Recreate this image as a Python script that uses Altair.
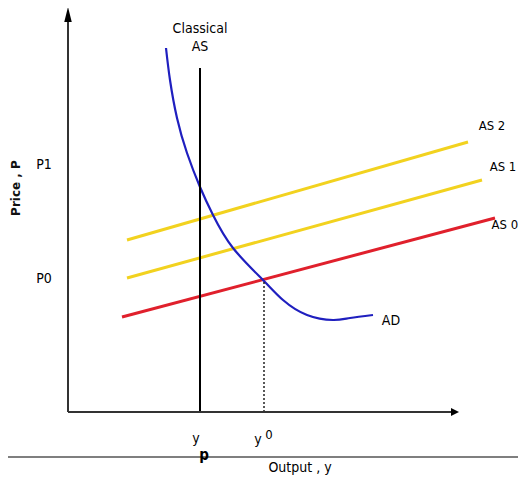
import altair as alt
import pandas as pd

# ---- data (diagram units: output on x, price on y) ----
ad_x = [24.5, 25.5, 27.25, 29.75, 33, 36.25, 41.25, 48.75, 53.75, 59.75, 66.25, 70.5, 76.25]
ad_y = [91, 83, 73.5, 64.75, 56.25, 49.25, 41, 33, 28, 24.25, 23, 23.5, 24.25]

as0_x = [13.5, 106.75]
as0_y = [23.75, 48.5]
as1_x = [14.75, 103.5]
as1_y = [33.5, 58]
as2_x = [14.75, 100]
as2_y = [43, 67.5]

classical_x = [33]
classical_y = [0, 86]
y0_line_x = [49]
y0_line_y = [0, 32.75]

axis_x_end = [96]
axis_y_end = [97.5]

label_text = ["Classical", "AS", "P1", "P0", "AD", "y", "y", "Output , y"]
label_x = [33, 33, -6, -6, 80.75, 32, 47.5, 58]
label_y = [95.75, 91.25, 61.75, 33.25, 22.75, -6.75, -7, -13.9]

as_text = ["AS 2", "AS 1", "AS 0"]
as_lx = [106, 108.75, 109.2]
as_ly = [71.5, 61.25, 46.75]

sub_text = ["p", "0"]
sub_x = [34, 50.25]
sub_y = [-10.75, -5.75]

XS = alt.Scale(domain=[-15, 112.5], nice=False, zero=False)
YS = alt.Scale(domain=[-15.75, 101], nice=False, zero=False)

FONT = "'DejaVu Sans Condensed', 'Liberation Sans Narrow', Roboto, sans-serif"


def enc(ch, **kw):
    return ch.encode(x=alt.X("x:Q", scale=XS, axis=None),
                     y=alt.Y("y:Q", scale=YS, axis=None), **kw)


def line(xs, ys, color, width, interp="linear"):
    df = pd.DataFrame({"x": xs, "y": ys, "o": list(range(len(xs)))})
    return enc(alt.Chart(df).mark_line(color=color, strokeWidth=width, interpolate=interp),
               order="o:Q")


ad = line(ad_x, ad_y, "#1f1fbf", 2.2, "natural")
as0 = line(as0_x, as0_y, "#e0202c", 3)
as1 = line(as1_x, as1_y, "#f2d21f", 3)
as2 = line(as2_x, as2_y, "#f2d21f", 3)

classical = alt.Chart(pd.DataFrame({"x": classical_x, "y": [classical_y[0]], "y2": [classical_y[1]]})).mark_rule(
    color="black", strokeWidth=2).encode(
    x=alt.X("x:Q", scale=XS, axis=None), y=alt.Y("y:Q", scale=YS, axis=None), y2="y2:Q")

dotted = alt.Chart(pd.DataFrame({"x": y0_line_x, "y": [y0_line_y[0]], "y2": [y0_line_y[1]]})).mark_rule(
    color="#222", strokeWidth=1.5, strokeDash=[2, 2]).encode(
    x=alt.X("x:Q", scale=XS, axis=None), y=alt.Y("y:Q", scale=YS, axis=None), y2="y2:Q")

yaxis = alt.Chart(pd.DataFrame({"x": [0], "y": [0], "y2": axis_y_end})).mark_rule(
    color="#333", strokeWidth=2).encode(
    x=alt.X("x:Q", scale=XS, axis=None), y=alt.Y("y:Q", scale=YS, axis=None), y2="y2:Q")

xaxis = alt.Chart(pd.DataFrame({"x": [0], "x2": axis_x_end, "y": [0]})).mark_rule(
    color="#333", strokeWidth=2).encode(
    x=alt.X("x:Q", scale=XS, axis=None), x2="x2:Q", y=alt.Y("y:Q", scale=YS, axis=None))

sep = alt.Chart(pd.DataFrame({"x": [-15], "x2": [112.5], "y": [-11.25]})).mark_rule(
    color="#555", strokeWidth=1.5).encode(
    x=alt.X("x:Q", scale=XS, axis=None), x2="x2:Q", y=alt.Y("y:Q", scale=YS, axis=None))

arrow_up = enc(alt.Chart(pd.DataFrame({"x": [0], "y": [99.4]})).mark_point(
    shape="M0,-1L0.5,1L-0.5,1Z", size=225, filled=True, color="black", opacity=1))
arrow_right = enc(alt.Chart(pd.DataFrame({"x": [96.75], "y": [0]})).mark_point(
    shape="M1,0L-1,1L-1,-1Z", size=64, filled=True, color="black", opacity=1))

labels = enc(alt.Chart(pd.DataFrame({"x": label_x, "y": label_y, "t": label_text})).mark_text(
    font=FONT, fontSize=14, color="#000", align="center", baseline="middle"),
    text="t:N")

as_labels = enc(alt.Chart(pd.DataFrame({"x": as_lx, "y": as_ly, "t": as_text})).mark_text(
    font=FONT, fontSize=13, color="#000", align="center", baseline="middle"),
    text="t:N")

subs_p = enc(alt.Chart(pd.DataFrame({"x": sub_x[:1], "y": sub_y[:1], "t": sub_text[:1]})).mark_text(
    font=FONT, fontSize=15, fontWeight="bold", color="#000", align="center",
    baseline="middle"), text="t:N")
subs_0 = enc(alt.Chart(pd.DataFrame({"x": sub_x[1:], "y": sub_y[1:], "t": sub_text[1:]})).mark_text(
    font=FONT, fontSize=13, color="#000", align="center",
    baseline="middle"), text="t:N")

ylabel = enc(alt.Chart(pd.DataFrame({"x": [-13.0], "y": [56], "t": ["Price , P"]})).mark_text(
    font="DejaVu Sans", fontSize=12, fontWeight="bold", color="#111", angle=270, align="center",
    baseline="middle"), text="t:N")

chart = alt.layer(sep, as0, as1, as2, ad, classical, dotted, yaxis, xaxis, arrow_up, arrow_right,
                  labels, as_labels, subs_p, subs_0, ylabel).properties(
    width=510, height=467, padding=0,
    autosize=alt.AutoSizeParams(type="none"), background="white"
).configure_view(stroke=None)

chart.save("out.html", embed_options={"renderer": "svg", "actions": False})
